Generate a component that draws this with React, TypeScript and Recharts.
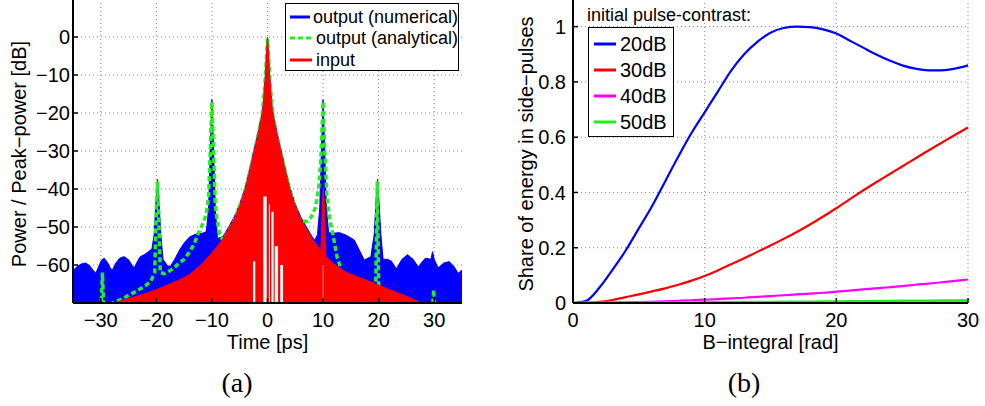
import React from "react";
import {
  Area,
  CartesianGrid,
  ComposedChart,
  Line,
  LineChart,
  XAxis,
  YAxis,
} from "recharts";

// (a) pulse in time domain, envelopes
const numTime = [
  -35, -34.2, -33.3, -32.7, -32, -31.3, -30.9, -30.4, -29.9, -29.4, -28.8, -28.3, -27.9, -27.3, -26.6,
  -25.8, -25, -24.4, -24, -23.5, -22.9, -22.2, -21.5, -20.8, -20.4, -20.1, -19.8, -19.5, -19.2, -18.8,
  -18, -17.5, -16.7, -15.8, -14.9, -14, -12.8, -11.6, -11, -10.6, -10.3, -10, -9.7, -9.4, -9, -8, -7,
  -6, -5, -4, -3.5, -3, -2.4, -2, -1.6, -1.2, -0.9, -0.7, -0.5, -0.35, -0.2, 0, 0.2, 0.35, 0.5, 0.7, 0.9,
  1.2, 1.6, 2, 2.4, 3, 3.5, 4, 5, 6, 7, 8, 8.5, 9, 9.4, 9.7, 10, 10.3, 10.6, 11, 11.9, 13, 14.2, 15.6,
  16.5, 17.4, 18.6, 19.2, 19.5, 19.8, 20.1, 20.4, 20.8, 21.6, 22.3, 23.2, 24.2, 25.2, 26.2, 27.1, 28.4,
  29.4, 29.7, 30, 30.7, 31.7, 32.7, 33.6, 34.3, 35,
];
const numDb = [
  -61.5, -60.3, -59.6, -59.5, -60.2, -61.5, -62.2, -60.5, -58.8, -58.2, -59.3, -60.8, -61.3, -59.5, -58.2,
  -57.8, -58.6, -60, -60.8, -59.3, -57.8, -57.3, -56.6, -55.8, -52, -44, -37.5, -44, -52, -58.5,
  -60.2, -60.4, -58.5, -56, -54, -52.6, -51.8, -51.6, -51.2, -45, -30, -16.5, -30, -45, -53, -52.5, -50,
  -47.4, -44, -39.4, -36.4, -33.4, -29.4, -26.9, -24.4, -21.4, -19.4, -16.4, -12, -9.5, -4.6, 0, -4.6, -9.5, -12, -16.4, -19.4,
  -21.4, -24.4, -26.9, -29.4, -33.4, -36.4, -39.4, -44, -47.4, -50, -52.5, -53.5, -52, -45, -30, -16.5, -30, -45, -51.5, -51.6, -51.5, -52.2, -53.4,
  -56, -58.7, -57.8, -52, -44, -37.5, -44, -52, -58.5, -58.5, -59, -61, -58.5, -57.3, -58.5, -60.5, -58.2,
  -58.5, -56.5, -58.5, -60.8, -59.5, -59.1, -60.5, -62.2, -61.3,
];

const anaTime = [
  -35, -30.2, -29.9, -29.7, -29.5, -29.2, -28.5, -27.5, -26, -24, -22, -21, -20.3, -20, -19.8, -19.6,
  -19.3, -18.5, -17, -16, -15, -14, -13.2, -12.4, -11.6, -11, -10.6, -10.3, -10, -9.7, -9.4, -9.1, -8.6,
  -8, -6, -4, -2, -1, -0.5, 0, 0.5, 1, 2, 4, 5, 5.5, 6.5, 7.2, 7.8, 8.6, 9.2, 9.6, 10, 10.3, 10.7, 11.2,
  11.6, 12.1, 12.5, 13, 13.8, 14.5, 19.4, 19.75, 20.1, 29.6, 29.9, 30.2, 35,
];
const anaDb = [
  -75, -75, -70, -62, -70, -75, -70.5, -69.8, -68.8, -67.2, -65.5, -64.3, -62, -45, -38, -45,
  -62, -62.3, -61, -59.6, -58.5, -56.5, -54.5, -51.5, -49, -46.5, -42, -30, -17, -30, -44, -48, -52,
  -53.5, -48.5, -40.5, -28, -21, -13, -0.5, -13, -21, -28, -40.5, -45, -47.5, -48.5, -48.5, -47.5, -45, -40, -32, -17, -30, -42, -48,
  -50.7, -54.5, -57.8, -60, -65, -72, -75, -38, -75, -75, -66.5, -75, -75,
];

const inTime = [
  -27.5, -26, -24, -22, -20, -18, -16, -14, -12, -10, -9, -8, -7, -6, -5, -4, -3.5, -3, -2.4, -2,
  -1.6, -1.2, -0.9, -0.7, -0.5, -0.35, -0.2, 0, 0.2, 0.35, 0.5, 0.7, 0.9, 1.2, 1.6, 2, 2.4, 3, 3.5, 4,
  5, 6, 7, 8, 9, 9.6, 9.85, 10.05, 10.25, 10.5, 12, 14, 16, 18, 20, 22, 24, 26, 27.5,
];
const inDb = [
  -70, -69.2, -68.4, -67.5, -66.5, -65.3, -64, -62.5, -60, -56.8, -55, -53, -50.5, -48, -44.5, -40, -37, -34, -30, -27.5,
  -25, -22, -20, -17, -12.5, -10, -5, 0, -5, -10, -12.5, -17, -20, -22, -25, -27.5, -30, -34, -37, -40,
  -44.5, -48, -50.5, -53, -55, -56.5, -45, -39.7, -45, -57.8, -59.8, -61.8, -63, -64.1, -65.3, -66.5, -67.6, -68.8, -70,
];

// empty (white) notches under the central peak: start, end, top level
const notchStart = [-2.6, -0.75, 0.25, 0.7, 1.3, 2.3, 9.95];
const notchEnd = [-2.2, -0.15, 0.45, 1.1, 1.9, 2.8, 10.05];
const notchTop = [-59, -42, -44, -46, -55, -60, -60];

const timeTicks = [-30, -20, -10, 0, 10, 20, 30];
const dbTicks = [-60, -50, -40, -30, -20, -10, 0];

// (b) share of energy in side pulses
const bRad = [
  0, 1, 2, 3, 4, 5, 6, 7, 8, 9, 10, 11, 12, 13, 14, 15, 16, 17, 18, 19, 20, 21, 22, 23, 24, 25, 26, 27, 28, 29, 30,
];
const share20 = [
  0, 0.008, 0.055, 0.12, 0.19, 0.27, 0.35, 0.44, 0.53, 0.615, 0.69, 0.765, 0.84, 0.9, 0.945, 0.978, 0.995, 1.0,
  0.998, 0.99, 0.975, 0.95, 0.925, 0.9, 0.878, 0.86, 0.848, 0.842, 0.842, 0.848, 0.86,
];
const share30 = [
  0, 0.001, 0.004, 0.011, 0.021, 0.031, 0.042, 0.053, 0.066, 0.081, 0.098, 0.118, 0.14, 0.162, 0.185, 0.208,
  0.232, 0.257, 0.284, 0.313, 0.343, 0.375, 0.406, 0.436, 0.465, 0.494, 0.523, 0.552, 0.58, 0.608, 0.635,
];
const share40 = [
  0, 0.0002, 0.0006, 0.0012, 0.002, 0.003, 0.0045, 0.006, 0.008, 0.01, 0.012, 0.014, 0.017, 0.019, 0.022, 0.025,
  0.028, 0.031, 0.034, 0.037, 0.041, 0.045, 0.049, 0.053, 0.057, 0.061, 0.066, 0.07, 0.075, 0.08, 0.085,
];
const share50 = [
  0, 0, 0.0001, 0.0002, 0.0003, 0.0004, 0.0006, 0.0008, 0.001, 0.0012, 0.0015, 0.0018, 0.0021, 0.0024, 0.0027,
  0.003, 0.0033, 0.0036, 0.004, 0.0044, 0.0048, 0.0052, 0.0056, 0.006, 0.0064, 0.0068, 0.0072, 0.0076, 0.008,
  0.0084, 0.0088,
];
const bTicks = [0, 10, 20, 30];
const shareTicks = [0, 0.2, 0.4, 0.6, 0.8, 1];

const FONT = '"Liberation Sans", Arial, sans-serif';
const BLUE = "#0000ff";
const GREEN = "#22ee22";
const RED = "#ff0000";
const MAGENTA = "#ff00ff";

const minus = (v: number) => String(v).replace("-", "\u2212");

function buildPulseRows() {
  const rows = new Map<number, any>();
  const put = (ts: number[], vs: number[], key: string) => {
    ts.forEach((t, i) => {
      const r = rows.get(t) || { t };
      r[key] = vs[i];
      rows.set(t, r);
    });
  };
  put(numTime, numDb, "num");
  put(anaTime, anaDb, "ana");
  put(inTime, inDb, "inp");
  return Array.from(rows.values()).sort((a, b) => a.t - b.t);
}

const pulseRows = buildPulseRows();

// each notch is its own little range segment, separated by a null row
const notchRows: any[] = [];
notchStart.forEach((s, i) => {
  notchRows.push({ t: s, gap: [-70, notchTop[i]] });
  notchRows.push({ t: notchEnd[i], gap: [-70, notchTop[i]] });
  notchRows.push({ t: notchEnd[i] + 0.01, gap: null });
});

const shareRows = bRad.map((b, i) => ({
  b,
  c20: share20[i],
  c30: share30[i],
  c40: share40[i],
  c50: share50[i],
}));

const frame = { stroke: "#000", strokeWidth: 2 };
const tickLine = { stroke: "#000", strokeWidth: 1.5 };
const tickText = { fill: "#000", fontSize: 20, fontFamily: FONT };

const abs = (x: number, y: number, extra: React.CSSProperties = {}): React.CSSProperties => ({
  position: "absolute",
  left: x,
  top: y,
  ...extra,
});

const LegendRow = ({ color, dash, label, h, fs }: { color: string; dash?: boolean; label: string; h: number; fs: number }) => (
  <div style={{ display: "flex", alignItems: "center", height: h }}>
    <svg width={24} height={8} style={{ marginRight: 3 }}>
      <line x1={1} x2={23} y1={4} y2={4} stroke={color} strokeWidth={3} strokeDasharray={dash ? "5 3" : undefined} />
    </svg>
    <span style={{ fontSize: fs, fontFamily: FONT, whiteSpace: "nowrap", lineHeight: 1 }}>{label}</span>
  </div>
);

export default function App() {
  return (
    <div style={{ position: "absolute", left: 0, top: 0, width: 985, height: 406, background: "#fff", overflow: "hidden" }}>
      <div style={abs(0, -1)}>
        <ComposedChart width={480} height={407} data={pulseRows} margin={{ top: 0, right: 18, bottom: 73, left: 13 }}>
          <CartesianGrid stroke="#888" strokeDasharray="1 3" horizontalValues={dbTicks} verticalValues={timeTicks} />
          <XAxis
            dataKey="t"
            type="number"
            domain={[-35, 35]}
            ticks={timeTicks}
            allowDataOverflow
            height={30}
            tickSize={-5}
            tickMargin={15}
            axisLine={frame}
            tickLine={tickLine}
            tick={tickText}
            tickFormatter={minus}
          />
          <XAxis
            xAxisId="top"
            dataKey="t"
            type="number"
            orientation="top"
            domain={[-35, 35]}
            ticks={timeTicks}
            allowDataOverflow
            height={0}
            mirror
            tickSize={5}
            axisLine={frame}
            tickLine={tickLine}
            tick={false}
          />
          <YAxis
            type="number"
            domain={[-70, 10]}
            ticks={dbTicks}
            allowDataOverflow
            width={60}
            tickSize={-5}
            tickMargin={8}
            axisLine={frame}
            tickLine={tickLine}
            tick={tickText}
            tickFormatter={minus}
          />
          <YAxis
            yAxisId="right"
            orientation="right"
            type="number"
            domain={[-70, 10]}
            ticks={dbTicks}
            allowDataOverflow
            width={0}
            mirror
            tickSize={5}
            axisLine={frame}
            tickLine={tickLine}
            tick={false}
          />
          <Area
            dataKey="num"
            type="linear"
            baseValue={-70}
            connectNulls
            stroke={BLUE}
            strokeWidth={1}
            fill={BLUE}
            fillOpacity={1}
            isAnimationActive={false}
          />
          <Area
            dataKey="ana"
            type="linear"
            baseValue={-70}
            connectNulls
            stroke={GREEN}
            strokeWidth={3.5}
            strokeDasharray="5 3"
            fill="none"
            isAnimationActive={false}
          />
          <Area
            dataKey="inp"
            type="linear"
            baseValue={-70}
            connectNulls
            stroke={RED}
            strokeWidth={1}
            fill={RED}
            fillOpacity={1}
            isAnimationActive={false}
          />
          <Area
            data={notchRows}
            dataKey="gap"
            type="linear"
            stroke="none"
            fill="#fff"
            fillOpacity={1}
            isAnimationActive={false}
          />
        </ComposedChart>
      </div>

      <div style={abs(500, -1)}>
        <LineChart width={485} height={407} data={shareRows} margin={{ top: 0, right: 17, bottom: 73, left: 13 }}>
          <CartesianGrid stroke="#888" strokeDasharray="1 3" horizontalValues={shareTicks} verticalValues={bTicks} />
          <XAxis
            dataKey="b"
            type="number"
            domain={[0, 30]}
            ticks={bTicks}
            height={30}
            tickSize={-5}
            tickMargin={15}
            axisLine={frame}
            tickLine={tickLine}
            tick={tickText}
          />
          <XAxis
            xAxisId="top"
            dataKey="b"
            type="number"
            orientation="top"
            domain={[0, 30]}
            ticks={bTicks}
            height={0}
            mirror
            tickSize={5}
            axisLine={frame}
            tickLine={tickLine}
            tick={false}
          />
          <YAxis
            type="number"
            domain={[0, 1.1]}
            ticks={shareTicks}
            allowDataOverflow
            width={60}
            tickSize={-5}
            tickMargin={12}
            axisLine={frame}
            tickLine={tickLine}
            tick={tickText}
          />
          <YAxis
            yAxisId="right"
            orientation="right"
            type="number"
            domain={[0, 1.1]}
            ticks={shareTicks}
            width={0}
            mirror
            tickSize={5}
            axisLine={frame}
            tickLine={tickLine}
            tick={false}
          />
          <Line dataKey="c20" type="monotone" dot={false} stroke={BLUE} strokeWidth={2.2} isAnimationActive={false} />
          <Line dataKey="c30" type="monotone" dot={false} stroke={RED} strokeWidth={2.2} isAnimationActive={false} />
          <Line dataKey="c40" type="monotone" dot={false} stroke={MAGENTA} strokeWidth={2.2} isAnimationActive={false} />
          <Line dataKey="c50" type="monotone" dot={false} stroke={GREEN} strokeWidth={3} isAnimationActive={false} />
        </LineChart>
      </div>

      {/* legend (a) */}
      <div style={abs(285, 3, { width: 169, height: 64, border: "1.5px solid #000", background: "#fff", padding: "2px 0 0 3px", boxSizing: "content-box" })}>
        <LegendRow color={BLUE} label="output (numerical)" h={21.5} fs={18} />
        <LegendRow color={GREEN} dash label="output (analytical)" h={21.5} fs={18} />
        <LegendRow color={RED} label="input" h={21.5} fs={18} />
      </div>

      {/* legend (b) */}
      <div style={abs(587, 5, { fontSize: 18, fontFamily: FONT, whiteSpace: "nowrap" })}>initial pulse-contrast:</div>
      <div style={abs(588, 27, { width: 80, height: 105, border: "1.5px solid #000", background: "#fff", padding: "3px 0 0 4px", boxSizing: "content-box" })}>
        <LegendRow color={BLUE} label="20dB" h={26} fs={20} />
        <LegendRow color={RED} label="30dB" h={26} fs={20} />
        <LegendRow color={MAGENTA} label="40dB" h={26} fs={20} />
        <LegendRow color={GREEN} label="50dB" h={26} fs={20} />
      </div>

      {/* axis titles */}
      <div style={abs(267.5, 342, { transform: "translate(-50%, -50%)", fontSize: 20, fontFamily: FONT, whiteSpace: "nowrap" })}>Time [ps]</div>
      <div style={abs(770.5, 342, { transform: "translate(-50%, -50%)", fontSize: 20, fontFamily: FONT, whiteSpace: "nowrap" })}>B{"\u2212"}integral [rad]</div>
      <div style={abs(19, 154, { transform: "translate(-50%, -50%) rotate(-90deg)", fontSize: 20, fontFamily: FONT, whiteSpace: "nowrap" })}>
        Power / Peak{"\u2212"}power [dB]
      </div>
      <div style={abs(526, 154, { transform: "translate(-50%, -50%) rotate(-90deg)", fontSize: 20, fontFamily: FONT, whiteSpace: "nowrap" })}>
        Share of energy in side{"\u2212"}pulses
      </div>
      <div style={abs(237, 383, { transform: "translate(-50%, -50%)", fontSize: 28, fontFamily: '"Liberation Serif", serif' })}>(a)</div>
      <div style={abs(744, 383, { transform: "translate(-50%, -50%)", fontSize: 28, fontFamily: '"Liberation Serif", serif' })}>(b)</div>
    </div>
  );
}
